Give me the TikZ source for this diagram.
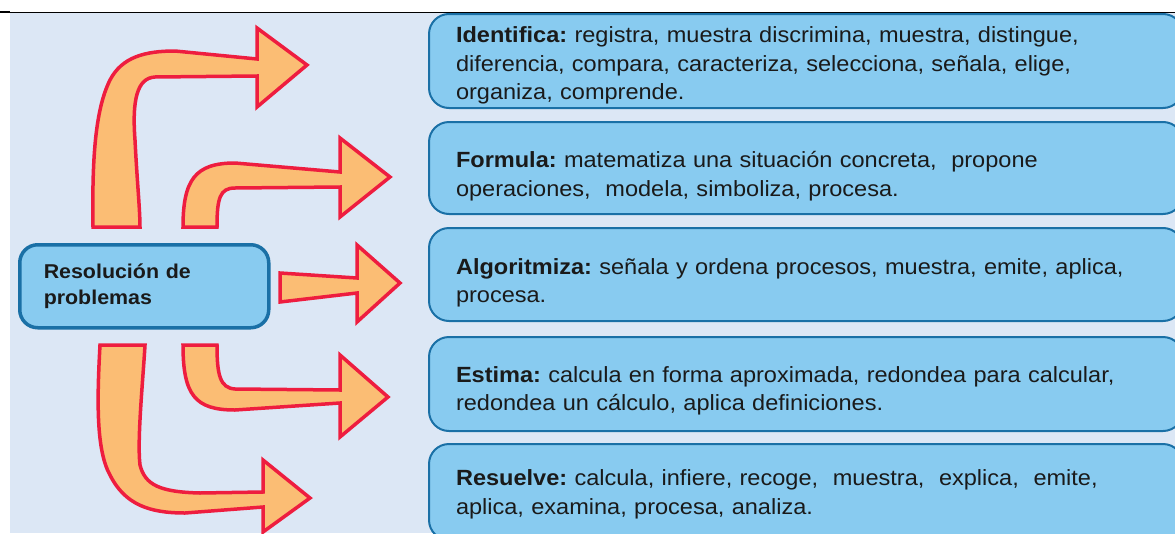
\documentclass[tikz,border=0pt]{standalone}
\usepackage{fontspec}
\setmainfont{Liberation Sans}[FakeStretch=1.07]
\definecolor{bgblue}{HTML}{DCE7F5}
\definecolor{boxfill}{HTML}{88CBF0}
\definecolor{boxline}{HTML}{1A70A6}
\definecolor{arrfill}{HTML}{FBBD74}
\definecolor{arrred}{HTML}{EE1D3F}
\definecolor{txt}{HTML}{1A1A1A}
\frenchspacing
\newcommand{\topgap}[1]{\rule{0pt}{#1}}
\begin{document}
\begin{tikzpicture}[x=1pt,y=-1pt,
  box/.style={draw=boxline, line width=2, fill=boxfill, rounded corners=20,
    text width=700, inner xsep=27, inner ysep=0, align=left, anchor=west,
    text=txt, font=\fontsize{22}{28.5}\selectfont},
  cbox/.style={draw=boxline, line width=3.5, fill=boxfill, rounded corners=18,
    text width=201, inner xsep=24, inner ysep=0, align=left, anchor=north west,
    minimum height=83, text=txt, font=\fontsize{20}{26}\selectfont\bfseries},
  fatarrow/.style={fill=arrfill, draw=arrred, line width=3.5, line join=miter}]
\useasboundingbox (0,0) rectangle (1175,533);
\clip (0,0) rectangle (1175,533);
\fill[bgblue] (10,13) rectangle (1175,533);
\draw[line width=1] (0,12) -- (1175,12);
\draw[line width=2.5] (0,12) -- (10,12);

% boxes
\node[box, minimum height=94] (b1) at (428,61)
  {\topgap{25pt}\textbf{Identifica:} registra, muestra discrimina, muestra, distingue,\\
   diferencia, compara, caracteriza, selecciona, señala, elige,\\
   organiza, comprende.};
\node[box, minimum height=92] (b2) at (428,168)
  {\topgap{33pt}\textbf{Formula:} matematiza una situación concreta,\ \ propone\\
   operaciones,\ \ modela, simboliza, procesa.};
\node[box, minimum height=93] (b3) at (428,274.5)
  {\topgap{33pt}\textbf{Algoritmiza:} señala y ordena procesos, muestra, emite, aplica,\\
   procesa.};
\node[box, minimum height=94] (b4) at (428,384)
  {\topgap{30pt}\textbf{Estima:} calcula en forma aproximada, redondea para calcular,\\
   redondea un cálculo, aplica definiciones.};
\node[box, minimum height=96] (b5) at (428,492)
  {\topgap{21pt}\textbf{Resuelve:} calcula, infiere, recoge,\ \ muestra,\ \ explica,\ \ emite,\\
   aplica, examina, procesa, analiza.};

% central node
\node[cbox] (c) at (18,243) {Resolución de\\ problemas};

% arrows
\draw[fatarrow] (93,227) .. controls (92,160) and (95,110) .. (110,80)
  .. controls (122,57) and (145,51) .. (175,51) -- (257,59) -- (257,28)
  -- (307,65) -- (257,107) -- (257,76) -- (155,77)
  .. controls (137,78) and (132,100) .. (135,140)
  .. controls (137,180) and (140,210) .. (140,227) -- cycle;
\draw[fatarrow] (183,227) .. controls (183,180) and (195,163) .. (235,163)
  -- (340,172) -- (340,138) -- (390,177) -- (340,217) -- (340,187)
  -- (235,188) .. controls (220,188) and (217,198) .. (217,227) -- cycle;
\draw[fatarrow] (280,273) -- (357,278) -- (357,245) -- (400,283)
  -- (357,322) -- (357,293) -- (280,302) -- cycle;
\draw[fatarrow] (183,345) .. controls (183,395) and (195,410) .. (235,410)
  -- (340,403) -- (340,437) -- (388,397) -- (340,355) -- (340,390)
  -- (235,389) .. controls (220,388) and (217,375) .. (217,345) -- cycle;
\draw[fatarrow] (100,345) .. controls (97,400) and (96,450) .. (110,475)
  .. controls (125,505) and (150,513) .. (185,513) -- (263,507) -- (263,532)
  -- (310,498) -- (263,460) -- (263,492) -- (200,493)
  .. controls (160,492) and (145,485) .. (140,465)
  .. controls (137,440) and (143,380) .. (145,345) -- cycle;
\end{tikzpicture}
\end{document}
